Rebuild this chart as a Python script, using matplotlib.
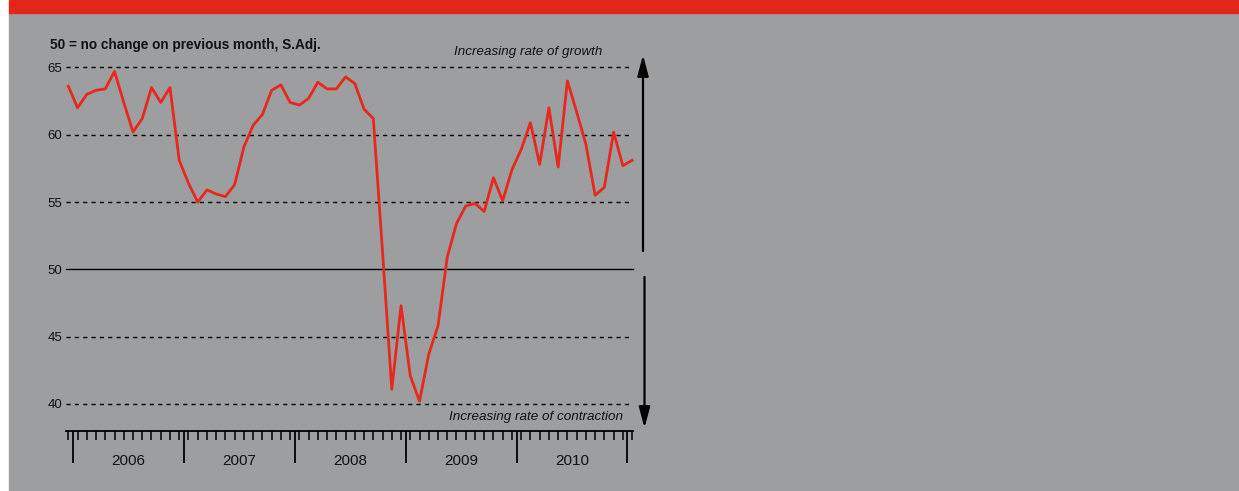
import numpy as np
from matplotlib import pyplot as plt
from matplotlib.patches import Rectangle

plt.rcParams['font.family'] = ['Liberation Sans', 'DejaVu Sans']

# monthly index, Dec 2005 .. Jan 2011 (50 = no change on previous month)
pmi = [63.6, 62.0, 63.0, 63.3, 63.4, 64.7, 62.4, 60.2, 61.2, 63.5,
       62.4, 63.5, 58.1, 56.4, 55.0, 55.9, 55.6, 55.4, 56.3, 59.1,
       60.7, 61.5, 63.3, 63.7, 62.4, 62.2, 62.7, 63.9, 63.4, 63.4,
       64.3, 63.8, 61.9, 61.2, 51.3, 41.1, 47.3, 42.1, 40.2, 43.7,
       45.8, 50.9, 53.4, 54.7, 54.9, 54.3, 56.8, 55.1, 57.4, 58.9,
       60.9, 57.8, 62.0, 57.6, 64.0, 61.7, 59.3, 55.5, 56.1, 60.2,
       57.7, 58.1]
years = ['2006', '2007', '2008', '2009', '2010']
y_ticks = [40, 45, 50, 55, 60, 65]
grid_levels = [40, 45, 55, 60, 65]

W, H = 1239, 491
fig = plt.figure(figsize=(W / 100, H / 100), dpi=100, facecolor='white')

# background panels
fig.patches.append(Rectangle((9 / W, 0), 1 - 9 / W, 1 - 13 / H,
                             transform=fig.transFigure, color='#9d9ea0', zorder=-10))
fig.patches.append(Rectangle((9 / W, 1 - 13 / H), 1 - 9 / W, 13 / H,
                             transform=fig.transFigure, color='#e3261b', zorder=-10))

ax = fig.add_axes([66 / W, (H - 404) / H, (633 - 66) / W, (404 - 67.4) / H])
ax.set_facecolor('none')

x = np.arange(len(pmi))
for lev in grid_levels:
    ax.axhline(lev, xmax=0.993, color='k', lw=1.0, ls=(0, (3, 3)), zorder=1, clip_on=False)
ax.axhline(50, color='k', lw=1.0, zorder=1, clip_on=False)
ax.plot(x, pmi, color='#e8271d', lw=2.0, zorder=3, clip_on=False)

ax.set_ylim(40, 65)
ax.set_xlim(-0.25, 61.1)

for s in ['top', 'right', 'left']:
    ax.spines[s].set_visible(False)
ax.spines['bottom'].set_position(('outward', 19.4))
ax.spines['bottom'].set_linewidth(1.3)

ax.set_yticks(y_ticks)
ax.set_yticklabels([str(v) for v in y_ticks])
ax.tick_params(axis='y', length=0, pad=2.5, labelsize=9.5, colors='#111111')

ax.set_xticks([0.5 + 12 * k for k in range(len(years) + 1)])
ax.set_xticklabels([])
ax.set_xticks(x, minor=True)
ax.tick_params(axis='x', which='major', direction='out', length=23, width=1.3)
ax.tick_params(axis='x', which='minor', direction='out', length=6.5, width=1.1)

for k, yr in enumerate(years):
    ax.text(6.5 + 12 * k, -0.168, yr, transform=ax.get_xaxis_transform(),
            ha='center', va='center', fontsize=11, color='#111111')

fig.text(50 / W, 1 - 45 / H, '50 = no change on previous month, S.Adj.',
         fontsize=9.8, fontweight='bold', ha='left', va='center', color='#111111')
fig.text(602 / W, 1 - 52 / H, 'Increasing rate of growth', fontsize=9.6,
         style='italic', ha='right', va='center', color='#111111')
fig.text(623 / W, 1 - 417 / H, 'Increasing rate of contraction', fontsize=9.7,
         style='italic', ha='right', va='center', color='#111111')

arrow = dict(arrowstyle='-|>,head_length=0.9,head_width=0.24', lw=1.6,
             color='k', mutation_scale=14, shrinkA=0, shrinkB=0)
ax.annotate('', xy=(643, H - 55), xytext=(643, H - 251),
            xycoords='figure pixels', textcoords='figure pixels', arrowprops=arrow)
ax.annotate('', xy=(644.5, H - 428), xytext=(644.5, H - 277),
            xycoords='figure pixels', textcoords='figure pixels', arrowprops=arrow)

plt.savefig('out.png', dpi=100, facecolor=fig.get_facecolor())
